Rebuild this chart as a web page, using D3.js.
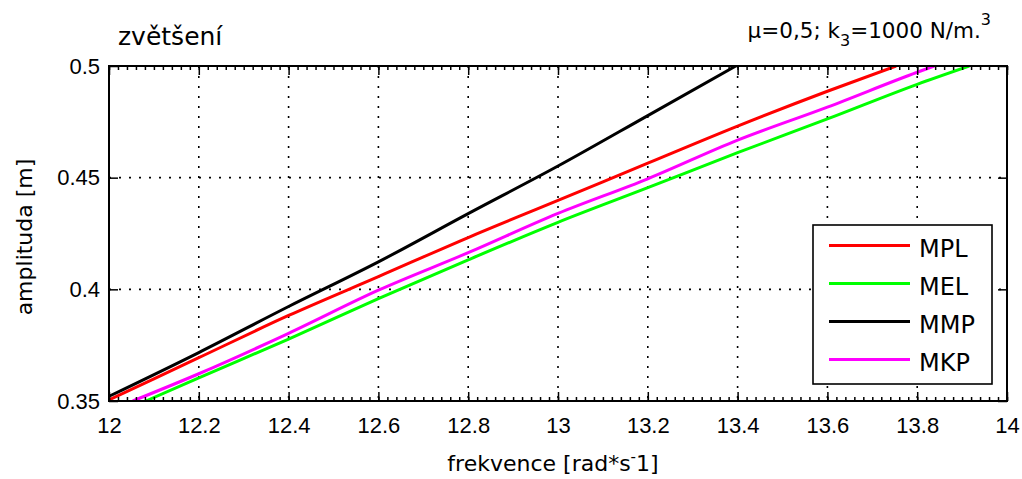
<!DOCTYPE html>
<html>
<head>
<meta charset="utf-8">
<script src="https://cdn.jsdelivr.net/npm/d3@7"></script>
<style>
  body { margin: 0; background: #fff; }
  svg { display: block; font-family: "DejaVu Sans", "Liberation Sans", sans-serif; }
</style>
</head>
<body>
<svg id="chart" width="1022" height="479"></svg>
<script>
// Amplitude response near resonance, four solution methods
const seriesNames  = ["MPL", "MEL", "MMP", "MKP"];
const seriesColors = ["#ff0000", "#00ff00", "#000000", "#ff00ff"];

const freqMPL = [12.0, 12.2, 12.4, 12.6, 12.8, 13.0, 13.2, 13.4, 13.6, 13.753];
const ampMPL  = [0.3505, 0.3694, 0.3883, 0.4057, 0.4232, 0.4398, 0.4565, 0.4731, 0.4887, 0.5000];

const freqMEL = [12.082, 12.2, 12.4, 12.6, 12.8, 13.0, 13.2, 13.4, 13.6, 13.8, 13.916];
const ampMEL  = [0.3500, 0.3604, 0.3777, 0.3958, 0.4132, 0.4300, 0.4455, 0.4612, 0.4763, 0.4918, 0.5000];

const freqMMP = [12.0, 12.2, 12.4, 12.6, 12.8, 13.0, 13.2, 13.396];
const ampMMP  = [0.3521, 0.3717, 0.3923, 0.4123, 0.4339, 0.4552, 0.4778, 0.5000];

const freqMKP = [12.053, 12.2, 12.4, 12.6, 12.8, 13.0, 13.2, 13.4, 13.6, 13.8, 13.838];
const ampMKP  = [0.3500, 0.3622, 0.3803, 0.3996, 0.4164, 0.4340, 0.4495, 0.4668, 0.4816, 0.4972, 0.5000];

const xTicks = [12, 12.2, 12.4, 12.6, 12.8, 13, 13.2, 13.4, 13.6, 13.8, 14];
const yTicks = [0.35, 0.4, 0.45, 0.5];
const xDomain = [12, 14];
const yDomain = [0.35, 0.5];

const seriesFreq = [freqMPL, freqMEL, freqMMP, freqMKP];
const seriesAmp  = [ampMPL, ampMEL, ampMMP, ampMKP];

const svg = d3.select("#chart");
const plot = { left: 109, right: 1007, top: 66, bottom: 401 };

const x = d3.scaleLinear().domain(xDomain).range([plot.left, plot.right]);
const y = d3.scaleLinear().domain(yDomain).range([plot.bottom, plot.top]);
const fmt = d3.format("~g");

svg.append("rect").attr("width", 1022).attr("height", 479).attr("fill", "#fff");

svg.append("defs").append("clipPath").attr("id", "plot-clip")
  .append("rect")
  .attr("x", plot.left).attr("y", plot.top)
  .attr("width", plot.right - plot.left).attr("height", plot.bottom - plot.top);

// dotted grid
const grid = svg.append("g").attr("stroke", "#000").attr("stroke-width", 1.6)
  .attr("stroke-dasharray", "2,8");
grid.selectAll("line.gx").data(xTicks.slice(1, -1)).join("line")
  .attr("x1", d => x(d)).attr("x2", d => x(d))
  .attr("y1", plot.top).attr("y2", plot.bottom);
grid.selectAll("line.gy").data(yTicks.slice(1, -1)).join("line")
  .attr("y1", d => y(d)).attr("y2", d => y(d))
  .attr("x1", plot.left).attr("x2", plot.right);

// curves
const line = d3.line().curve(d3.curveMonotoneX).x(d => x(d[0])).y(d => y(d[1]));
const curves = svg.append("g").attr("clip-path", "url(#plot-clip)");
seriesNames.forEach((name, i) => {
  const pts = seriesFreq[i].map((f, k) => [f, seriesAmp[i][k]]);
  curves.append("path")
    .datum(pts)
    .attr("fill", "none")
    .attr("stroke", seriesColors[i])
    .attr("stroke-width", 3)
    .attr("stroke-linejoin", "round")
    .attr("d", line);
});

// axes: ticks point inward
function styleAxis(g) {
  g.select(".domain").remove();
  g.selectAll(".tick line").attr("stroke", "#000").attr("stroke-width", 1.5);
  g.selectAll(".tick text").attr("fill", "#000").attr("font-size", 22);
}

const minorX = d3.range(0, 101).map(k => 12 + k * 0.02);

svg.append("g").attr("transform", `translate(0,${plot.bottom})`)
  .call(d3.axisBottom(x).tickValues(minorX).tickSize(-4).tickFormat(""))
  .call(styleAxis);
svg.append("g").attr("transform", `translate(0,${plot.top})`)
  .call(d3.axisTop(x).tickValues(minorX).tickSize(-4).tickFormat(""))
  .call(styleAxis);

svg.append("g").attr("transform", `translate(0,${plot.bottom})`)
  .call(d3.axisBottom(x).tickValues(xTicks).tickSize(-9).tickPadding(16).tickFormat(fmt))
  .call(styleAxis);
svg.append("g").attr("transform", `translate(0,${plot.top})`)
  .call(d3.axisTop(x).tickValues(xTicks).tickSize(-9).tickFormat(""))
  .call(styleAxis);
svg.append("g").attr("transform", `translate(${plot.left},0)`)
  .call(d3.axisLeft(y).tickValues(yTicks).tickSize(-9).tickPadding(9).tickFormat(fmt))
  .call(styleAxis);
svg.append("g").attr("transform", `translate(${plot.right},0)`)
  .call(d3.axisRight(y).tickValues(yTicks).tickSize(-9).tickFormat(""))
  .call(styleAxis);

// frame
svg.append("rect")
  .attr("x", plot.left).attr("y", plot.top)
  .attr("width", plot.right - plot.left).attr("height", plot.bottom - plot.top)
  .attr("fill", "none").attr("stroke", "#000").attr("stroke-width", 2);

// legend
const legend = svg.append("g");
legend.append("rect")
  .attr("x", 813).attr("y", 225).attr("width", 179).attr("height", 159)
  .attr("fill", "#fff").attr("stroke", "#000").attr("stroke-width", 1.6);
const rowY = d3.scalePoint().domain(seriesNames).range([245.5, 359.5]);
seriesNames.forEach((name, i) => {
  legend.append("line")
    .attr("x1", 829).attr("x2", 910)
    .attr("y1", rowY(name)).attr("y2", rowY(name))
    .attr("stroke", seriesColors[i]).attr("stroke-width", 3);
  legend.append("text")
    .attr("x", 919).attr("y", rowY(name) + 11)
    .attr("font-size", 24).attr("fill", "#000")
    .text(name);
});

// titles and axis labels
svg.append("text").attr("x", 118).attr("y", 45)
  .attr("font-size", 25).attr("fill", "#000").text("zvětšení");

const sub = svg.append("text").attr("x", 991).attr("y", 38)
  .attr("font-size", 21.5).attr("fill", "#000").attr("text-anchor", "end");
sub.append("tspan").text("μ=0,5; k");
sub.append("tspan").attr("font-size", 16).attr("dy", 8).text("3");
sub.append("tspan").attr("dy", -8).text("=1000 N/m.");
sub.append("tspan").attr("font-size", 16).attr("dy", -13).text("3");

const xl = svg.append("text").attr("x", 553).attr("y", 471)
  .attr("font-size", 22).attr("fill", "#000").attr("text-anchor", "middle");
xl.append("tspan").text("frekvence [rad*s");
xl.append("tspan").attr("font-size", 15).attr("dy", -9).text("-");
xl.append("tspan").attr("dy", 9).text("1]");

svg.append("text")
  .attr("transform", "translate(32,237) rotate(-90)")
  .attr("font-size", 22).attr("fill", "#000").attr("text-anchor", "middle")
  .text("amplituda [m]");
</script>
</body>
</html>
